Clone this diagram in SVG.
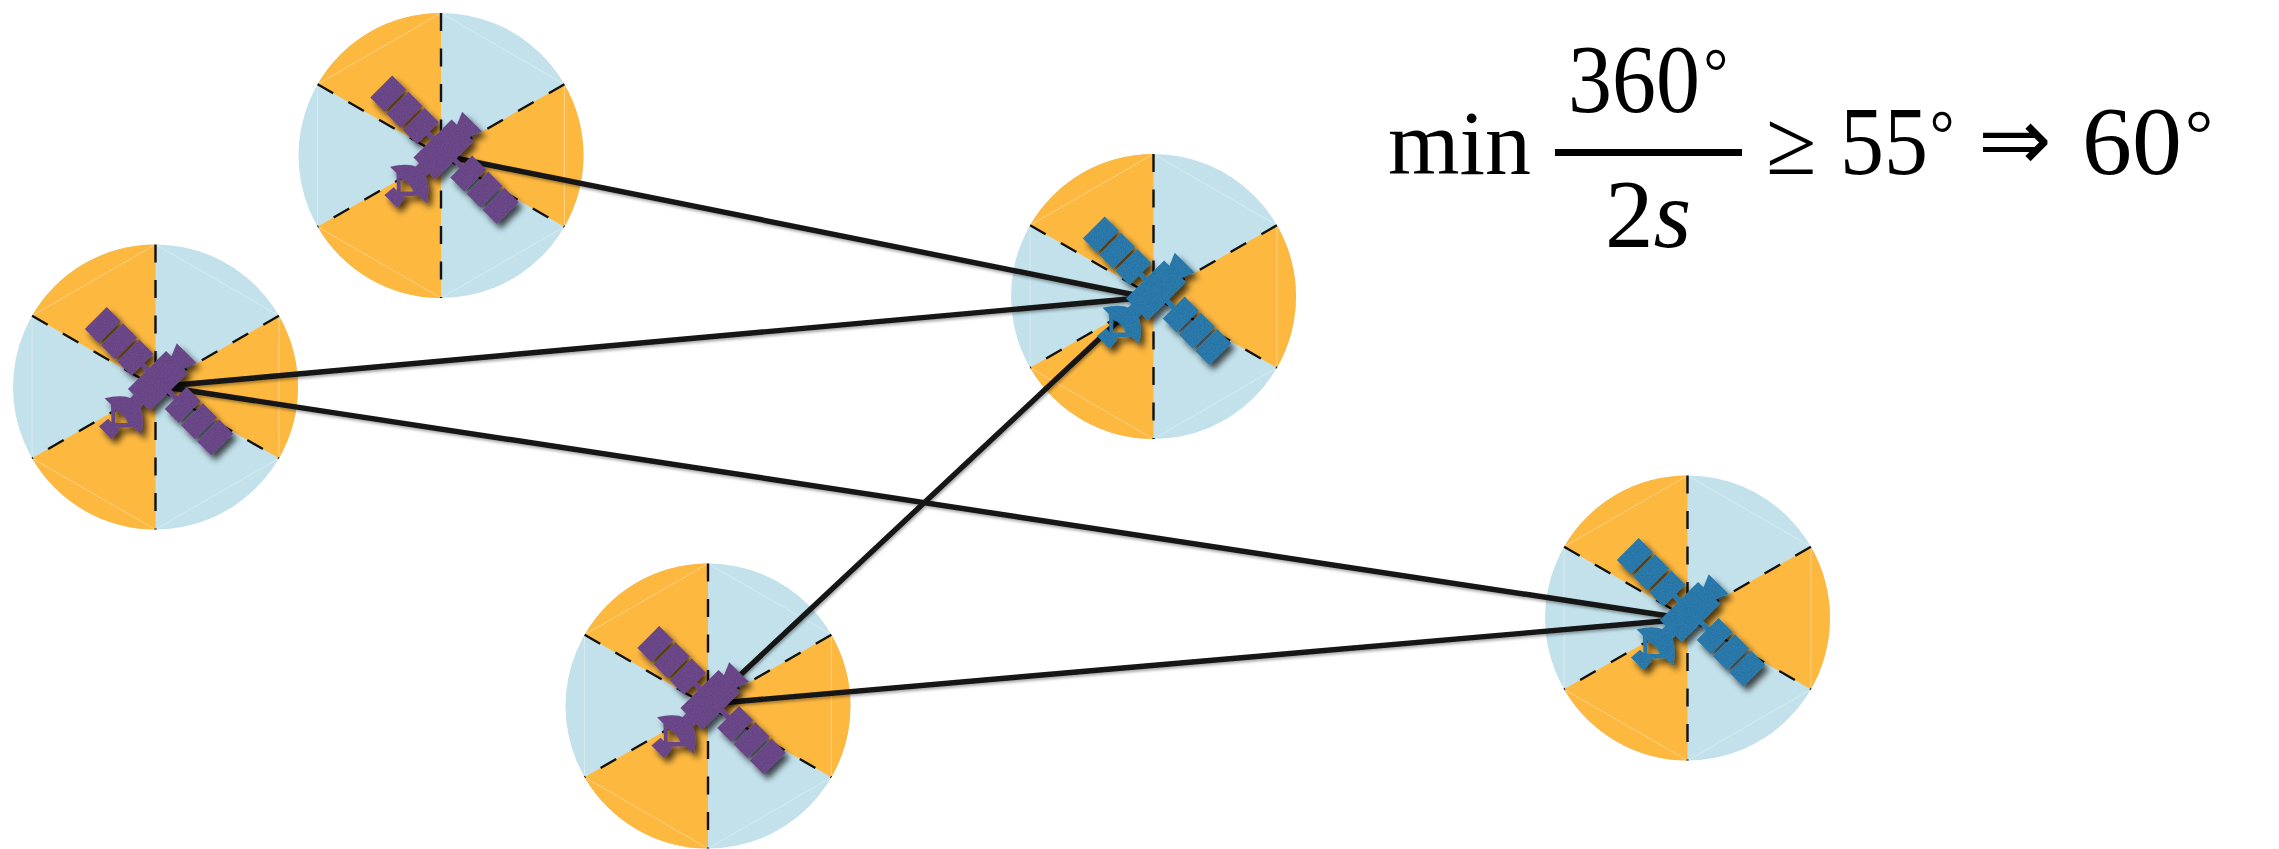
<svg xmlns="http://www.w3.org/2000/svg" xmlns:xlink="http://www.w3.org/1999/xlink" width="2279" height="849" viewBox="0 0 2279 849">
  <style>
    .sector-bg { fill: #C2E1EB; }
    .sector-hot { fill: #FDB840; }
    .hex { fill: none; stroke: #ffffff; stroke-opacity: 0.35; stroke-width: 1; }
    .divider { fill: none; stroke: #111111; stroke-width: 2.4; stroke-dasharray: 18 17.5; }
    .link { fill: none; stroke: #141414; stroke-width: 5.4; stroke-linecap: round; }
    .math { font-family: "Liberation Serif", "DejaVu Serif", serif; font-size: 92px; fill: #000000; }
    .num { font-size: 97px; }
    .deg { font-size: 68px; }
    .arrow { font-family: "DejaVu Sans", "Liberation Serif", sans-serif; font-weight: 200; font-size: 88px; }
  </style>
  <defs>
    <!-- soft shadow + light grain for the satellite icons -->
    <filter id="satFx" filterUnits="userSpaceOnUse" x="0" y="0" width="2279" height="849">
      <feTurbulence type="fractalNoise" baseFrequency="0.9" numOctaves="2" seed="4" result="noise"/>
      <feColorMatrix in="noise" type="matrix" values="0 0 0 0 0  0 0 0 0 0  0 0 0 0 0  0.45 0 0 0 -0.12" result="grain"/>
      <feComposite in="grain" in2="SourceAlpha" operator="in" result="grainIn"/>
      <feMerge result="textured">
        <feMergeNode in="SourceGraphic"/>
        <feMergeNode in="grainIn"/>
      </feMerge>
      <feGaussianBlur in="SourceAlpha" stdDeviation="3" result="blur"/>
      <feOffset in="blur" dx="4" dy="5" result="off"/>
      <feComponentTransfer in="off" result="shadow">
        <feFuncA type="linear" slope="0.7"/>
      </feComponentTransfer>
      <feMerge>
        <feMergeNode in="shadow"/>
        <feMergeNode in="textured"/>
      </feMerge>
    </filter>
    <!-- slightly soft links with a faint shadow -->
    <filter id="linkFx" filterUnits="userSpaceOnUse" x="0" y="0" width="2279" height="849">
      <feGaussianBlur in="SourceGraphic" stdDeviation="0.6" result="soft"/>
      <feGaussianBlur in="SourceAlpha" stdDeviation="1.5" result="sb"/>
      <feOffset in="sb" dx="1" dy="2" result="so"/>
      <feComponentTransfer in="so" result="sh">
        <feFuncA type="linear" slope="0.35"/>
      </feComponentTransfer>
      <feMerge>
        <feMergeNode in="sh"/>
        <feMergeNode in="soft"/>
      </feMerge>
    </filter>

    <!-- six 60-degree sectors, alternating colours, with dashed dividers -->
    <g id="disc">
      <circle r="142.5" class="sector-bg"/>
      <path class="sector-hot" d="M0 0 L-123.41 -71.25 A142.5 142.5 0 0 1 0 -142.5 Z"/>
      <path class="sector-hot" d="M0 0 L123.41 -71.25 A142.5 142.5 0 0 1 123.41 71.25 Z"/>
      <path class="sector-hot" d="M0 0 L0 142.5 A142.5 142.5 0 0 1 -123.41 71.25 Z"/>
      <polygon class="hex" points="0,-142.5 123.41,-71.25 123.41,71.25 0,142.5 -123.41,71.25 -123.41,-71.25"/>
      <line class="divider" x1="0" y1="-142.5" x2="0" y2="142.5"/>
      <line class="divider" x1="-123.41" y1="-71.25" x2="123.41" y2="71.25"/>
      <line class="divider" x1="123.41" y1="-71.25" x2="-123.41" y2="71.25"/>
    </g>

    <!-- satellite icon, drawn along its panel axis; colour comes from the use -->
    <g id="sat" fill="currentColor" stroke="none">
      <rect x="-91" y="-22" width="20" height="31"/>
      <rect x="-68" y="-22" width="20" height="31"/>
      <rect x="-45" y="-22" width="20" height="31"/>
      <rect x="22" y="-22" width="20" height="31"/>
      <rect x="45" y="-22" width="20" height="31"/>
      <rect x="68" y="-22" width="20" height="31"/>
      <rect x="-27" y="-9" width="51" height="5"/>
      <rect x="-18" y="-33" width="31" height="54"/>
      <polygon points="-10,-32 6,-32 12,-46 -16,-46"/>
      <rect x="-10" y="19" width="14" height="13"/>
      <!-- dish with feed arm and a small window between them -->
      <path fill-rule="evenodd" d="M-28 44 Q-3 4 24 44 L13 44 L-2 60 L-19 44 Z M-12 45 L-3 54 L6 45 Q-3 41 -12 45 Z"/>
      <polygon points="-11,56 5,56 6,68 -12,68"/>
    </g>
  </defs>

  <!-- coverage discs -->
  <g id="disc-1"><use xlink:href="#disc" href="#disc" transform="translate(441 155.5)"/></g>
  <g id="disc-2"><use xlink:href="#disc" href="#disc" transform="translate(155.5 387)"/></g>
  <g id="disc-3"><use xlink:href="#disc" href="#disc" transform="translate(1153.5 296.5)"/></g>
  <g id="disc-4"><use xlink:href="#disc" href="#disc" transform="translate(708 706)"/></g>
  <g id="disc-5"><use xlink:href="#disc" href="#disc" transform="translate(1687.5 618)"/></g>

  <!-- links between satellites -->
  <g id="connectors" filter="url(#linkFx)">
    <line class="link" x1="450" y1="157" x2="1140" y2="296"/>
    <line class="link" x1="165" y1="386" x2="1140" y2="298"/>
    <line class="link" x1="165" y1="387" x2="1675" y2="617"/>
    <line class="link" x1="722" y1="692" x2="1130" y2="310"/>
    <line class="link" x1="720" y1="703" x2="1675" y2="620"/>
  </g>

  <!-- satellites -->
  <g id="sat-1" filter="url(#satFx)"><use xlink:href="#sat" href="#sat" color="#6F4C8F" transform="translate(441 155.5) rotate(45)"/></g>
  <g id="sat-2" filter="url(#satFx)"><use xlink:href="#sat" href="#sat" color="#6F4C8F" transform="translate(155.5 387) rotate(45)"/></g>
  <g id="sat-3" filter="url(#satFx)"><use xlink:href="#sat" href="#sat" color="#2F7FB2" transform="translate(1153.5 296.5) rotate(45)"/></g>
  <g id="sat-4" filter="url(#satFx)"><use xlink:href="#sat" href="#sat" color="#6F4C8F" transform="translate(708 706) rotate(45)"/></g>
  <g id="sat-5" filter="url(#satFx)"><use xlink:href="#sat" href="#sat" color="#2F7FB2" transform="translate(1687.5 618) rotate(45)"/></g>

  <!-- sector-width condition -->
  <g id="formula" class="math">
    <text class="math" x="1388" y="174">min</text>
    <text class="math num" transform="translate(1568 112) scale(0.907 1)">360<tspan class="deg" dx="4" dy="-17">°</tspan></text>
    <rect x="1555" y="149" width="187" height="7" fill="#000000"/>
    <text class="math num" x="1648" y="247" text-anchor="middle">2<tspan font-style="italic">s</tspan></text>
    <text class="math" x="1766" y="174">≥</text>
    <text class="math num" transform="translate(1840 174) scale(0.907 1)">55<tspan class="deg" dx="2" dy="-17">°</tspan></text>
    <text class="math arrow" x="1978" y="170">⇒</text>
    <text class="math num" transform="translate(2082 174) scale(1.03 1)">60<tspan class="deg" dx="3" dy="-17">°</tspan></text>
  </g>
</svg>
